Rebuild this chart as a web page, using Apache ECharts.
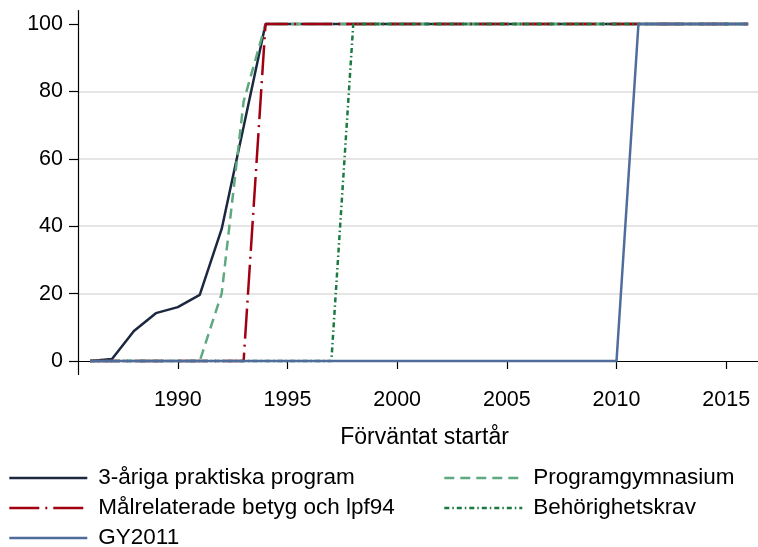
<!DOCTYPE html>
<html>
<head>
<meta charset="utf-8">
<script src="https://cdn.jsdelivr.net/npm/echarts@6/dist/echarts.min.js"></script>
<style>html,body{margin:0;padding:0;background:#fff}#c{width:758px;height:547px}</style>
</head>
<body>
<div id="c"></div>
<script>
const years = [1986,1987,1988,1989,1990,1991,1992,1993,1994,1995,1996,1997,1998,1999,2000,2001,2002,2003,2004,2005,2006,2007,2008,2009,2010,2011,2012,2013,2014,2015,2016];
const praktiska = [0,0.6,8.9,14.2,16,19.6,39.2,69.5,100,100,100,100,100,100,100,100,100,100,100,100,100,100,100,100,100,100,100,100,100,100,100];
const programgym = [0,0,0,0,0,0,20,77,100,100,100,100,100,100,100,100,100,100,100,100,100,100,100,100,100,100,100,100,100,100,100];
const malrelaterade = [0,0,0,0,0,0,0,0,100,100,100,100,100,100,100,100,100,100,100,100,100,100,100,100,100,100,100,100,100,100,100];
const behorighet = [0,0,0,0,0,0,0,0,0,0,0,0,100,100,100,100,100,100,100,100,100,100,100,100,100,100,100,100,100,100,100];
const gy2011 = [0,0,0,0,0,0,0,0,0,0,0,0,0,0,0,0,0,0,0,0,0,0,0,0,0,100,100,100,100,100,100];
const xTicks = [1990,1995,2000,2005,2010,2015];
const yTicks = [0,20,40,60,80,100];
const names = ['3-åriga praktiska program','Programgymnasium','Målrelaterade betyg och lpf94','Behörighetskrav','GY2011'];

const pair = arr => years.map((y,i)=>[y,arr[i]]);
const font = 'Liberation Sans, Arial, sans-serif';
function mk(name, data, color, type){
  return {name, type:'line', data:pair(data), symbol:'none', showSymbol:false,
    lineStyle:{color, width:2.5, type}, itemStyle:{color}, z:2, animation:false};
}
function lg(name, left, top){
  return {left, top, data:[name], orient:'horizontal', padding:0, itemWidth:78, itemHeight:14,
    itemStyle:{color:'transparent', borderWidth:0, opacity:0},
    lineStyle:{width:2.6},
    textStyle:{fontFamily:font, fontSize:22.5, color:'#000', lineHeight:26, padding:[0,0,0,6]},
    selectedMode:false};
}
const chart = echarts.init(document.getElementById('c'), null, {renderer:'canvas'});
chart.setOption({
  animation:false,
  textStyle:{fontFamily:font},
  grid:{left:78, right:0, top:10.5, bottom:172.5},
  xAxis:{type:'value', min:1985.45, max:2016.45,
    axisLine:{show:true, lineStyle:{color:'#000', width:1.2}},
    axisTick:{show:true, customValues:xTicks, length:8, lineStyle:{color:'#000', width:1.2}},
    axisLabel:{customValues:xTicks, fontSize:21.5, color:'#000', margin:15, fontFamily:font, formatter:v=>String(v)},
    splitLine:{show:false},
    name:'Förväntat startår', nameLocation:'middle', nameGap:52,
    nameTextStyle:{fontSize:23, color:'#000', fontFamily:font, padding:[0,0,0,13]}},
  yAxis:{type:'value', min:-4, max:104,
    axisLine:{show:true, lineStyle:{color:'#000', width:1.2}},
    axisTick:{show:true, customValues:yTicks, length:9, lineStyle:{color:'#000', width:1.2}},
    axisLabel:{customValues:yTicks, fontSize:21.5, color:'#000', margin:15, fontFamily:font},
    splitLine:{show:true, showMinLine:false, showMaxLine:false, lineStyle:{color:'#dcdcdc', width:1.5}}},
  legend:[
    lg(names[0], 8, 465),
    lg(names[1], 443, 465),
    lg(names[2], 8, 495),
    lg(names[3], 443, 495),
    lg(names[4], 8, 525)
  ],
  series:[
    mk(names[0], praktiska, '#1c2840', 'solid'),
    mk(names[1], programgym, '#5ea97f', [10,6]),
    mk(names[2], malrelaterade, '#a00010', [30,6,2,6]),
    mk(names[3], behorighet, '#1b7a3f', [5,3,1.5,3]),
    mk(names[4], gy2011, '#4f6d9c', 'solid')
  ]
});
</script>
</body>
</html>
